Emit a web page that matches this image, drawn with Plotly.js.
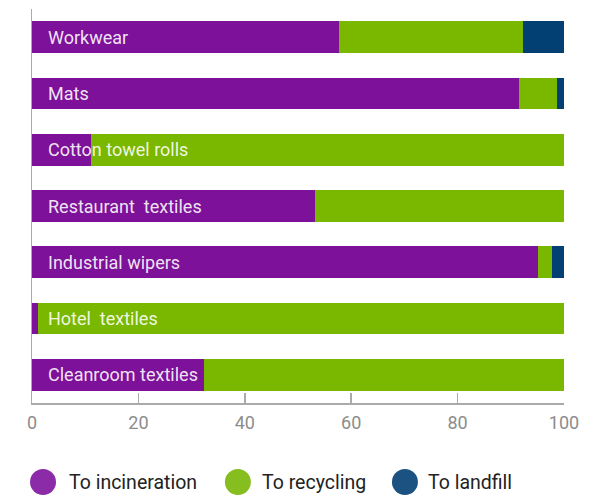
<!DOCTYPE html>
<html>
<head>
<meta charset="utf-8">
<script src="https://cdn.plot.ly/plotly-3.0.1.min.js"></script>
<style>html,body{margin:0;padding:0;background:#fff;}#chart{width:602px;height:497px;}</style>
</head>
<body>
<div id="chart"></div>
<script>
const categories = ["Workwear", "Mats", "Cotton towel rolls", "Restaurant\u00a0 textiles", "Industrial wipers", "Hotel\u00a0 textiles", "Cleanroom textiles"];
const seriesNames = ["To incineration", "To recycling", "To landfill"];
const incineration = [57.7, 91.5, 11.1, 53.2, 95.2, 1.2, 32.4];
const recycling = [34.5, 7.1, 88.9, 46.8, 2.5, 98.8, 67.6];
const landfill = [7.8, 1.4, 0, 0, 2.3, 0, 0];
const xTicks = [0, 20, 40, 60, 80, 100];

const barColors = ["#7d1199", "#7ab800", "#023f73"];
const legendColors = ["#8b2ba7", "#86bd1f", "#1c5282"];
const seriesValues = [incineration, recycling, landfill];

const traces = seriesValues.map((vals, i) => ({
  type: "bar",
  orientation: "h",
  name: seriesNames[i],
  y: categories,
  x: vals,
  marker: {color: barColors[i], line: {width: 0}},
  hoverinfo: "none",
  showlegend: false
}));

const labelAnnotations = categories.map(c => ({
  xref: "x", yref: "y", x: 0, y: c,
  text: c, showarrow: false, xanchor: "left", yanchor: "middle",
  xshift: 14,
  font: {family: "Roboto, sans-serif", size: 18, color: "rgba(255,255,255,0.9)"}
}));

const legendX = [0.0207, 0.387, 0.701];
const legendTextX = [0.0658, 0.428, 0.740];
const legendShapes = seriesNames.map((n, i) => ({
  type: "circle", xref: "paper", yref: "paper",
  xsizemode: "pixel", ysizemode: "pixel",
  xanchor: legendX[i], yanchor: 0,
  x0: -13, x1: 13, y0: -92, y1: -66,
  fillcolor: legendColors[i], line: {width: 0}
}));
const legendAnnotations = seriesNames.map((n, i) => ({
  xref: "paper", yref: "paper", x: legendTextX[i], y: 0, yshift: -79,
  text: n, showarrow: false, xanchor: "left", yanchor: "middle",
  font: {family: "Roboto, sans-serif", size: 19.5, color: "#222"}
}));

const layout = {
  width: 602, height: 497,
  margin: {l: 32, r: 38, t: 9, b: 94},
  barmode: "stack",
  bargap: 0.437,
  paper_bgcolor: "#fff", plot_bgcolor: "#fff",
  showlegend: false,
  xaxis: {
    range: [0, 100], tickvals: xTicks, ticktext: xTicks.map(String),
    ticks: "inside", ticklen: 10, tickcolor: "#aaa", tickwidth: 1.5,
    showline: true, linecolor: "#aaa", linewidth: 1.5,
    showgrid: false, zeroline: false, ticklabelstandoff: 3,
    tickfont: {family: "Roboto, sans-serif", size: 18, color: "#8c8c8c"}
  },
  yaxis: {
    autorange: "reversed", showticklabels: false, ticks: "",
    showline: true, linecolor: "#aaa", linewidth: 1.5,
    showgrid: false, zeroline: false
  },
  annotations: labelAnnotations.concat(legendAnnotations),
  shapes: legendShapes
};

Plotly.newPlot("chart", traces, layout, {displayModeBar: false, staticPlot: true});
</script>
</body>
</html>
